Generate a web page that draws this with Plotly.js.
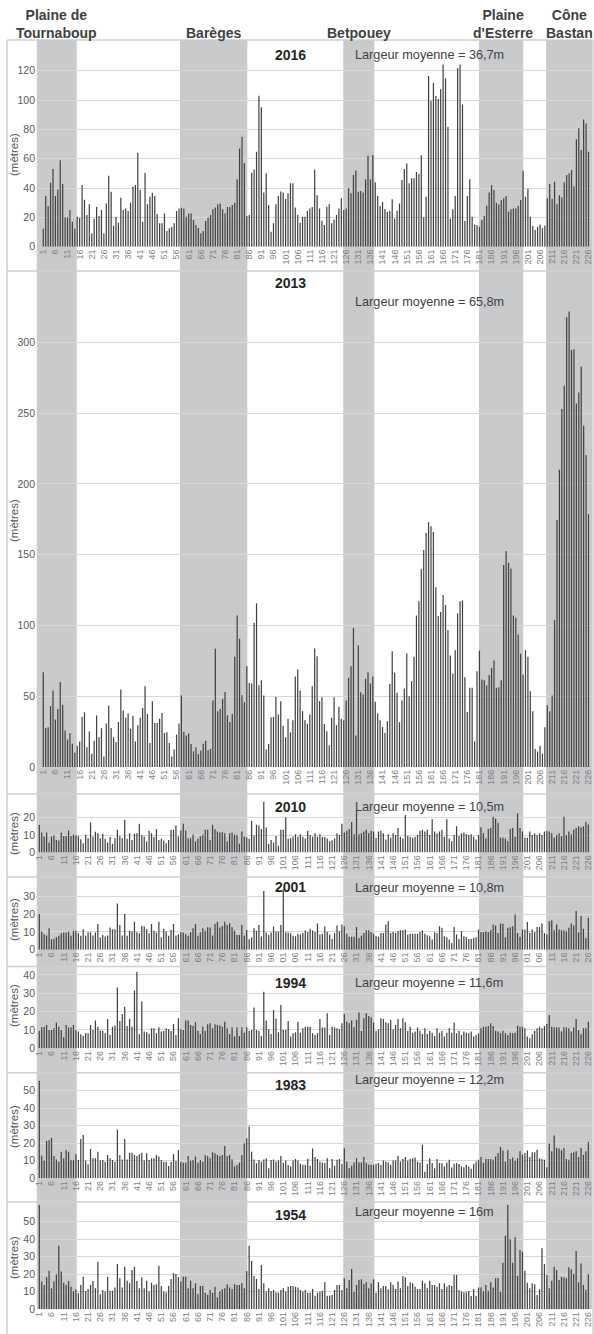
<!DOCTYPE html>
<html>
<head>
<meta charset="utf-8">
<script src="https://cdn.plot.ly/plotly-3.0.1.min.js"></script>
<style>
html,body{margin:0;padding:0;background:#fff;}
#chart{width:594px;height:1334px;}
</style>
</head>
<body>
<div id="chart"></div>
<script>
// ---------- DATA ----------
const sections = Array.from({length: 226}, (_, i) => i + 1);

const years = ['2016', '2013', '2010', '2001', '1994', '1983', '1954'];
const meanWidths = ['36,7m', '65,8m', '10,5m', '10,8m', '11,6m', '12,2m', '16m'];

const regionNames = ['Plaine de<br>Tournaboup', 'Barèges', 'Betpouey', 'Plaine<br>d\'Esterre', 'Cône<br>Bastan'];
// section-index extent of each shaded region (top-panel index units)
const regionExtents = [[-1.7, 14.8], [57.4, 85.2], [124.8, 137.6], [180.8, 199.1], [208.5, 228.3]];

const w2016 = [
12.3,34.5,27.7,43.6,53,34.5,39,59,42.7,20,
20,25,17,12.3,20.5,19.5,42,32,21.6,29,
9,19,27,21,25,9,29.5,48.4,37.5,14.3,
20.5,16.4,33.4,25,26,24.3,30,41,42,64,
38.9,17,50.5,29,34,36.8,34.5,22.3,16,16,
22.7,10.7,12.5,13.4,16,24.3,26,26.6,26,20.5,
22.7,22.7,18.2,14.8,12.7,9,10.7,17.5,19.8,21.6,
25.5,26.8,29,29.5,25.5,22.7,27,27,28.4,30,
46,67,75,57,21,21.6,50.5,52.7,64.8,103,
95,37,50,28.4,10.2,16,29,34.5,37.7,37,
32.5,36.4,43.2,43.2,26.8,21.6,16.4,20.5,20.5,24.5,
26,27,52.7,35,26,17.7,14.8,27.3,29,16,
18.6,21.6,26,33,25,26,40,36.4,48.9,52,
37.5,38,37,46,62,46,62.5,44,34.5,27.7,
30.7,25.7,23.6,24.5,32.3,19.3,24.5,29.5,45.5,53,
56.8,43.2,46.6,46.6,51,49.5,62.3,20,34,116.4,
99.5,111.8,102.7,100.7,107.3,124.3,114.8,81.8,19,25.5,
34.5,121.6,124.3,97,17.5,34.5,46,20.5,15.2,14.8,
13.6,18.2,21,28,37,42,38.6,30,28.9,31.8,
33,34.5,23.9,25.5,26,26,27.7,31.8,51.8,34,
39.3,20.5,14.3,11.4,13.6,15.2,12.5,14.5,33,42.7,
32.5,44.3,29,35,33.6,43.9,48.9,50,52.3,41,
73.2,80.7,65.9,86.8,84,64.8
];

const w2013 = [
67,27.6,28,43,54,33.5,41,60,44,25.7,
19.3,24,16.5,10,15,18,35.4,38.7,14,25,
9.4,18.6,36.3,21,27.4,7.5,30.7,43.4,27.6,21,
17.7,31.8,54.7,39.9,34.7,37.7,27,36,18,29.5,
34.7,41.7,57,37.5,17,46.5,31,31,34,38.2,
24,24.5,17,7.5,12.3,22.9,30.7,50.5,24.8,22.2,
23.6,16.3,11,14,9.2,11.6,16.5,18.6,11.8,12.7,
47,83.5,39.4,41,48,53,36.6,31.8,37.5,77.8,
107,90.6,50.7,45.8,71.2,59.4,59,101.9,115.6,57.8,
61.3,50.5,12.3,16.3,35,35.4,49.5,37,46.5,29.2,
21,34,24.5,33,64,68.9,54,39.4,33,30.4,
37,57,83.7,78.3,46.5,49.3,30.4,25.2,15.3,34.7,
49.3,29.5,42.5,34,33,47,63,71.2,98.3,22.2,
85.8,52.8,51.2,62.3,67,59,64,46,37.7,33,
28.3,24,32.3,58.7,81.8,66.5,52.4,31.6,46.9,55.4,
80.2,50,60.6,77.8,107,117,139.6,153.3,165.3,173,
170,166,127,106.6,109.4,121.5,114.4,96.7,78.8,66,
82.5,108.5,117,117.7,63.4,38.9,55.9,55.9,18.2,67.7,
82.3,61.8,61.3,57.5,64.9,70,75.2,55.9,56.4,61.3,
142.7,152.6,144.3,140,107,105.4,93.6,80,65.3,82.5,
77.8,53.5,39.4,12.7,11,15,9.4,28,43.6,39.4,
50.5,104,174.5,210,252.8,269.3,317.7,321.7,294.6,295,
256.8,264.6,282.8,241,220.3,178.5
];

const w2010 = [
15.8,11.4,9.1,11.4,5.7,9.1,9.9,7.2,6.9,11.4,
9.5,9.5,12.6,9.5,10.1,9.9,9.5,7.6,5.3,10.1,
8.2,17.1,9.1,11.8,11,8.2,10.7,7.8,5.7,8.8,
5,8.2,13,9.5,8.2,18.7,7.8,11,7.2,10.7,
11,16.4,9.9,9.1,6.3,12.4,11,8.8,13.3,7.2,
7.8,6.9,5.3,7.2,13,13,15.4,9.1,12.6,16.4,
12.6,8.2,8.2,10.1,6.3,7.8,9.5,10.1,13,13,
7.2,15.8,13.3,12,11.4,11.6,11,6.3,11,11.4,
10.1,10.1,5,12,9.1,8.6,7.8,18.1,9.7,15.8,
15.4,13.5,29,14.3,4.8,7.2,5.7,9.5,3.8,13,
13,20.2,7.8,8.2,9.1,10.5,9,10.5,9,8,
12.5,10,9,11,9,10.5,8.8,8.8,8,6.5,
7,8,11,10,16.5,11.5,12.5,13.5,17.5,10.5,
24,10.5,11,12,13,11,12.5,12,8.5,12,
12.5,11,7.5,10.5,8.5,11,10,14,9,8,
21.5,9.5,9,8.5,9,10,12.5,13,12,13,
10,19,12,11,12,13,9,19,8,6.5,
10,15,9.5,11,11.5,10.5,10,10.5,9,7.5,
10,14.5,11,8,13.5,14,20.5,19.5,17,8.5,
8.5,8,6.5,13.5,14,9,22.5,14,12,8.5,
8.5,12,10,11,10,11,10,12,12.5,12,
11,8.5,10,11,9.5,20.5,10,12,10.5,13,
14,15,14.5,15,17.5,16
];

const w2001 = [
20,10.2,8.7,8,12,5.9,6.1,7,7.8,9.3,
9.6,9.6,10.2,7.8,10.6,10.6,9.3,7.8,11.5,7.8,
9.8,9.8,8,9.6,14.4,6.9,8.3,7.4,8,12.4,
11.5,11.5,26,13.9,8,20,7.8,10.6,10.2,15.7,
9.8,9.3,13.3,13,11.5,9.3,14.4,10.7,9.6,15.7,
7,11.7,10.2,7.8,11.1,14.4,8,8.7,9.8,9.6,
8.7,7.8,9.8,12,14.4,7.8,9.8,12,10.6,12.6,
12.4,8,14.4,15.7,12.4,13.3,15.7,13.9,14.8,12.6,
10.6,8.3,8.3,13.9,7.8,11.1,5.9,6.9,12,10.7,
13.9,7.4,33,9.6,8.3,9.6,13,10.2,10.2,13.9,
34,9.8,9.6,9.3,7.8,7.5,8.9,8.5,9.4,10.8,
10,11.7,10.8,10,14.7,8.5,8.9,13.2,10,8.5,
6,9.4,13.6,10.4,14.2,13.2,9,7.2,7.2,7.2,
12.8,6.6,7.9,9.4,10.9,10.9,10,9,7.5,7.2,
9.4,9.4,14.2,16,9.4,10,9.4,10.4,10.9,10.9,
11.3,8.5,8.9,8.9,8.9,8.9,10,10.8,8.9,8.1,
7.5,5.7,9.8,9.4,13.2,12.3,7.5,7,5.7,3.8,
12.8,8.5,6,10.4,7.5,7,6,6,6.6,7,
11.3,10,10,10.4,10,10.9,14.2,13.6,9.4,14.7,
14.5,7,12.3,12.6,13.2,19.8,9.4,7.2,11.3,11.3,
15.5,9.4,11.3,10,12.8,12.8,14.7,9.4,8.5,16,
16.6,10.9,14.2,11.3,10.9,10.8,10.4,12.3,14.7,13.6,
21.7,9.8,18.9,11.7,6.6,17.9
];

const w1994 = [
9.6,11.5,11.8,12.7,10,10,10.9,14,11.8,10,
6,12.7,11.3,11.3,12.7,10,9.1,7.6,6.7,8.2,
8.2,12.7,10,15.1,11.8,9.6,9.6,8.2,16,7.3,
11.8,12.4,33.1,14.9,18.7,22.7,12.2,16,11.8,31.5,
41.8,7.6,25.5,9.1,8.7,7.8,10.9,10.9,8.2,11.5,
9.1,9.5,10.9,10.4,9.5,13.3,7.3,16.4,10.4,10,
15.1,15.1,12.7,12.2,14.2,9.6,7.8,11.8,9.6,13.1,
13.6,10.9,13.1,12.7,12.4,11.8,14.5,10.9,7.8,11.3,
6.4,11.3,6.7,11.5,8.5,11.5,9.5,10,22.2,10,
9.6,6.7,30.9,15.1,10.4,7.8,20.9,16.2,8.7,23.6,
10,10,14.9,6.4,8.2,8.7,14.5,8.5,10.9,11.8,
11.8,11.8,8.2,7.3,8.2,16,11.3,11.3,19.1,7.3,
11.8,11.3,10.9,10.4,13.6,18.7,14.5,13.6,15.1,11.5,
15.5,19.5,9.5,16.4,19.1,17.6,16.9,14,9.5,10.4,
16.4,16,14.2,13.6,15.5,10.4,12.7,16,10.9,16.4,
14.2,9.5,11.8,8.5,9.1,11.3,9.6,7.8,10.9,7.8,
9.5,8.5,6.7,10.9,8.5,9.5,6.4,8.5,10.9,8.5,
14,8.2,9.6,7.3,9.1,8.5,8.2,9.1,6.4,7.3,
8.2,10.9,11.8,11.8,12.2,13.6,12.2,9.6,9.1,8.2,
9.6,8.2,7.3,8.5,8.2,8.5,12.4,11.8,11.8,10.9,
6.4,5.5,7.6,9.5,10.9,11.8,10.9,12.2,13.3,18.2,
11.8,11.5,11.5,11.3,9.1,11.5,11.3,10.9,9.1,11.3,
16,10,7.6,10.9,10.9,14.5
];

const w1983 = [
55.7,12.9,10.1,21.3,21.9,23.2,12.7,10.8,9.5,15.2,
11.4,16.2,15.2,10.5,10.5,13.7,10.5,22.4,24.7,10.1,
8,16.7,11.4,11.4,15.2,10.1,10.5,9.5,13.3,11.4,
10.5,9.5,27.9,13.3,10.8,22.4,10.8,14.6,14.6,13.3,
12.7,13.7,14.6,10.1,14.3,10.5,11.4,11.4,13.3,12.4,
10.5,9.5,9.5,7,9.5,13.7,9.9,16.2,9.5,8.9,
8.9,12.7,10.1,10.5,12.4,8.9,10.5,9.5,13.3,12.7,
11.4,14.8,14.3,13.3,12.7,13.3,18.4,12.7,13.3,10.8,
6.7,7.6,8.9,13.3,20,22.8,29.5,15.2,10.8,8.6,
10.5,9.5,10.8,11.4,5.7,10.5,10.8,9.5,10.1,12.7,
8.9,10.1,7.6,6.7,10.1,11,10.1,8.3,7.7,7.7,
11.2,7.1,17,12.1,11,9.6,9,8.7,11.5,5.8,
11,7.1,10.6,11,8.1,17.1,9.6,5.8,7.1,9,
11.5,9,9,12.1,8.7,7.7,7.7,7.7,8.3,8.7,
7.7,10.2,9.6,9,7.7,10.2,10.2,12.9,9.6,11,
12.1,10,11,11.5,11.9,9.6,9,19.2,3.8,8.1,
11.5,8.7,5.8,11,8.7,8.7,6.7,9,10.6,6.2,
8.3,8.7,8.1,6.7,6.3,7.7,6.7,5.4,8.1,9.6,
10.6,12.1,8.7,11,11,11,10.6,12.5,14.4,17.9,
15.8,9.6,16,11,11.9,10.2,11.5,15.4,13.5,14.4,
15.8,12.1,14.8,14.8,16.3,11.5,11,10.6,6.3,19.8,
15.4,24.4,17.3,17,16,17.3,11,10.6,14.4,14.8,
15.4,12.1,17.3,13.5,15.4,20.6
];

const w1954 = [
59.5,15.8,13.9,18.3,22,12,15.8,20,36.3,21.5,
15.2,13.9,16.2,12.9,10.5,11.4,9.1,13.9,18.6,10.5,
11.6,13.9,16.2,12,27.2,8.6,11,10.1,18.6,10.6,
10.6,12.5,25.9,17.7,12.5,24.3,16.3,14.8,22.4,24.3,
16.2,12,18.3,12,16.3,10.1,15.2,13.9,14.3,24.9,
13.3,10.1,9.7,13.3,17.3,20.5,20.2,18.3,15.8,18.6,
18.6,12,16.3,12,14.8,8.6,13.3,13.3,9.5,8.2,
11,9.5,12.9,6.7,10.5,11.4,12,14.3,12.4,11.4,
14.3,13.9,13.9,14.8,12,21.9,36.3,27.6,19,17.3,
11.6,25.3,14.8,10.1,12,10.5,11,9.7,9.5,11,
12,10.1,12.9,13.3,13.3,12.9,12.5,11,10.1,11,
9.5,9.5,11.6,7.8,9.5,10.1,10.6,15.4,7.8,7.8,
8.2,11,13.9,13.9,11,17.7,12,16.7,23,10.1,
13.9,16.7,17.1,14.4,15.4,12,14.8,17.1,9.5,15.4,
12,13.3,13.3,11.4,15.4,13.9,11.6,15.8,12,19,
18.3,13.3,15.4,14.8,12.9,11.6,11.6,16.3,14.8,12,
16.3,13.9,13.9,12.9,14.8,11.6,14.8,12.9,13.9,13.3,
19.6,19.6,11,10.1,9.7,9.7,10.5,7.6,11.6,7.6,
12.5,12.5,10.5,13.9,10.6,15.4,12.4,17.7,17.7,10.1,
26.6,42,59.5,40,26.6,41.1,19.2,33.8,32.9,22,
15.2,12,14.8,14.3,8.2,11.4,34.8,25.9,19.6,12,
16.3,24.3,22.4,16.7,18.6,18.3,17.7,24,22.8,20.2,
33.3,15.4,26.2,13.9,11,20.2
];

const tickValues = [1,6,11,16,21,26,31,36,41,46,51,56,61,66,71,76,81,86,91,96,101,106,111,116,121,126,131,136,141,146,151,156,161,166,171,176,181,186,191,196,201,206,211,216,221,226];
const tickLabels = ['1','6','11','16','21','26','31','36','41','46','51','56','61','66','71','76','81','86','91','96','101','106','111','116','121','126','131','136','141','146','151','156','161','166','171','176','181','186','191','196','201','206','211','216','221','226'];
const tickLabels2001 = ['1','6','11','16','21','26','31','36','41','46','51','56','61','66','71','76','81','86','91','96','01','06','11','16','21','26','31','36','41','46','51','56','61','66','71','76','81','86','91','96','01','06','11','16','21','26'];

const series = [w2016, w2013, w2010, w2001, w1994, w1983, w1954];
const seriesTicks = [tickLabels, tickLabels, tickLabels, tickLabels2001, tickLabels, tickLabels, tickLabels];

// ---------- LAYOUT (pixel geometry) ----------
const W = 594, H = 1334;
const px = v => v / W;
const py = v => 1 - v / H;

// per panel: plot top px, zero-line px, y max, dtick, x group, year title y, mean text y, y-title y
const panels = [
  {top: 44.3,   zero: 246.7,  ymax: 138,  dtick: 20, grp: 0, ty: 55,    my: 55,    yt: 155},
  {top: 274.3,  zero: 767,    ymax: 348,  dtick: 50, grp: 0, ty: 283,   my: 302,   yt: 521},
  {top: 800.9,  zero: 852.5,  ymax: 29.5, dtick: 10, grp: 1, ty: 807,   my: 807,   yt: 834},
  {top: 882,    zero: 949.7,  ymax: 38,   dtick: 10, grp: 1, ty: 887,   my: 888,   yt: 920},
  {top: 967.6,  zero: 1048.3, ymax: 44,   dtick: 10, grp: 1, ty: 983,   my: 983,   yt: 1006},
  {top: 1076.7, zero: 1178.3, ymax: 58,   dtick: 10, grp: 1, ty: 1085,  my: 1080,  yt: 1127},
  {top: 1204.5, zero: 1309.3, ymax: 59.8, dtick: 10, grp: 1, ty: 1215,  my: 1212,  yt: 1258}
];
const xRanges = [[-2.01, 227.45], [-0.35, 227.5]];
const xDomain = [px(36), px(592)];

const FONT = 'Liberation Sans, Arial, sans-serif';

const data = [];
const layout = {
  width: W, height: H,
  margin: {l: 0, r: 0, t: 0, b: 0},
  paper_bgcolor: '#ffffff',
  plot_bgcolor: 'rgba(0,0,0,0)',
  bargap: 0.5,
  showlegend: false,
  font: {family: FONT, color: '#595959'},
  shapes: [],
  annotations: []
};

panels.forEach((p, k) => {
  const n = k + 1;
  const xa = 'xaxis' + (n === 1 ? '' : n);
  const ya = 'yaxis' + (n === 1 ? '' : n);
  const xr = 'x' + (n === 1 ? '' : n);
  const yr = 'y' + (n === 1 ? '' : n);
  data.push({
    type: 'bar',
    x: sections,
    y: series[k],
    xaxis: xr, yaxis: yr,
    marker: {color: '#3f3f3f', line: {width: 0}},
    hoverinfo: 'skip'
  });
  layout[xa] = {
    domain: xDomain,
    range: xRanges[p.grp],
    anchor: yr,
    tickmode: 'array',
    tickvals: tickValues,
    ticktext: seriesTicks[k],
    tickangle: -90,
    tickfont: {family: FONT, size: 9, color: '#7f7f7f'},
    showgrid: false, zeroline: false, showline: false, ticks: '',
    fixedrange: true
  };
  layout[ya] = {
    domain: [py(p.zero), py(p.top)],
    range: [0, p.ymax],
    anchor: xr,
    tick0: 0, dtick: p.dtick,
    tickfont: {family: FONT, size: 10.5, color: '#595959'},
    showgrid: true, gridcolor: '#d9d9d9', gridwidth: 1,
    zeroline: false, showline: false, ticks: '',
    fixedrange: true
  };
  layout.annotations.push({
    xref: 'paper', yref: 'paper', x: px(290), y: py(p.ty),
    text: '<b>' + years[k] + '</b>', showarrow: false,
    xanchor: 'center', yanchor: 'middle',
    font: {family: FONT, size: 14, color: '#262626'}
  });
  layout.annotations.push({
    xref: 'paper', yref: 'paper', x: px(353), y: py(p.my),
    text: 'Largeur moyenne = ' + meanWidths[k], showarrow: false,
    xanchor: 'left', yanchor: 'middle',
    font: {family: FONT, size: 12.7, color: '#404040'}
  });
  layout.annotations.push({
    xref: 'paper', yref: 'paper', x: px(14), y: py(p.yt),
    text: '(mètres)', showarrow: false, textangle: -90,
    xanchor: 'center', yanchor: 'middle',
    font: {family: FONT, size: 11.5, color: '#595959'}
  });
});

// shaded regions across all panels (end at the bottom panel's baseline)
regionExtents.forEach(r => {
  layout.shapes.push({
    type: 'rect', xref: 'x', yref: 'paper',
    x0: r[0], x1: r[1], y0: py(panels[6].zero), y1: py(40),
    fillcolor: '#c9cacc', line: {width: 0}, layer: 'below'
  });
});

// frame (top, left, right) and separators
const frameColor = '#cfcfcf';
[[7, 40, 593, 40], [7, 40, 7, 1334], [593, 40, 593, 1334]].forEach(s => {
  layout.shapes.push({
    type: 'line', xref: 'paper', yref: 'paper',
    x0: px(s[0]), y0: py(s[1]), x1: px(s[2]), y1: py(s[3]),
    line: {color: frameColor, width: 1.5}, layer: 'above'
  });
});
[271, 794, 877, 966.5, 1072.7, 1202].forEach(yv => {
  layout.shapes.push({
    type: 'line', xref: 'paper', yref: 'paper',
    x0: px(7), x1: px(593), y0: py(yv), y1: py(yv),
    line: {color: frameColor, width: 1.5}, layer: 'above'
  });
});

// region headers
const headerPos = [[57, 24], [213, 33], [359, 33], [503, 24], [569, 24]];
regionNames.forEach((t, i) => {
  layout.annotations.push({
    xref: 'paper', yref: 'paper', x: px(headerPos[i][0]), y: py(headerPos[i][1]),
    text: '<b>' + t + '</b>', showarrow: false,
    xanchor: 'center', yanchor: 'middle', align: 'center',
    font: {family: FONT, size: 14, color: '#404040'}
  });
});

Plotly.newPlot('chart', data, layout, {staticPlot: true, displayModeBar: false});
</script>
</body>
</html>
